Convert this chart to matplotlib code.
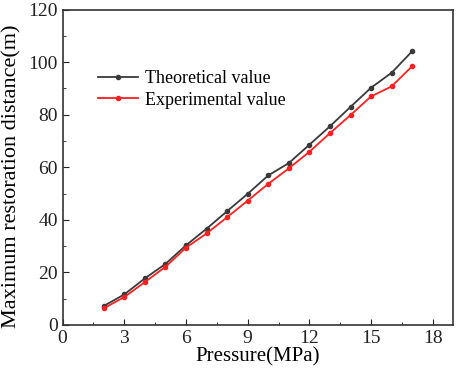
import numpy as np
import matplotlib
matplotlib.use("Agg")
import matplotlib.pyplot as plt
from matplotlib.ticker import MultipleLocator

pressure = [2, 3, 4, 5, 6, 7, 8, 9, 10, 11, 12, 13, 14, 15, 16, 17]
theoretical = [7.2, 11.6, 17.7, 23.2, 30.3, 36.6, 43.3, 49.9, 56.9, 61.6,
               68.6, 75.6, 83.0, 90.3, 96.0, 104.2]
experimental = [6.3, 10.6, 16.3, 22.1, 29.4, 34.8, 41.0, 47.3, 53.7, 59.6,
                65.9, 73.0, 79.9, 87.0, 90.8, 98.5]

plt.rcParams['font.family'] = ['Liberation Serif', 'DejaVu Serif']

fig = plt.figure(figsize=(4.57, 3.73), dpi=100)
ax = fig.add_axes([0.137, 0.129, 0.855, 0.845])

ax.plot(pressure, theoretical, color='#3a3a3a', lw=1.3, marker='o', ms=3,
        label='Theoretical value')
ax.plot(pressure, experimental, color='#ff2020', lw=1.3, marker='o', ms=3,
        label='Experimental value')

ax.set_xlim(0, 19)
ax.set_ylim(0, 120)
ax.xaxis.set_major_locator(MultipleLocator(3))
ax.xaxis.set_minor_locator(MultipleLocator(1.5))
ax.yaxis.set_major_locator(MultipleLocator(20))
ax.yaxis.set_minor_locator(MultipleLocator(10))
ax.tick_params(which='both', direction='in', labelsize=14, colors='#222222')
ax.tick_params(which='major', length=4)
ax.tick_params(which='minor', length=2.5)
for s in ax.spines.values():
    s.set_color('#333333')
    s.set_linewidth(1.2)

ax.set_xlabel('Pressure(MPa)', fontsize=15, labelpad=0)
ax.set_ylabel('Maximum restoration distance(m)', fontsize=16)
ax.yaxis.set_label_coords(-0.105, 0.471)

ax.legend(loc='upper left', bbox_to_anchor=(0.05, 0.86), frameon=False,
          fontsize=13, handlelength=2.2, handletextpad=0.4, labelspacing=0.25)

fig.savefig('out.png', dpi=100)
